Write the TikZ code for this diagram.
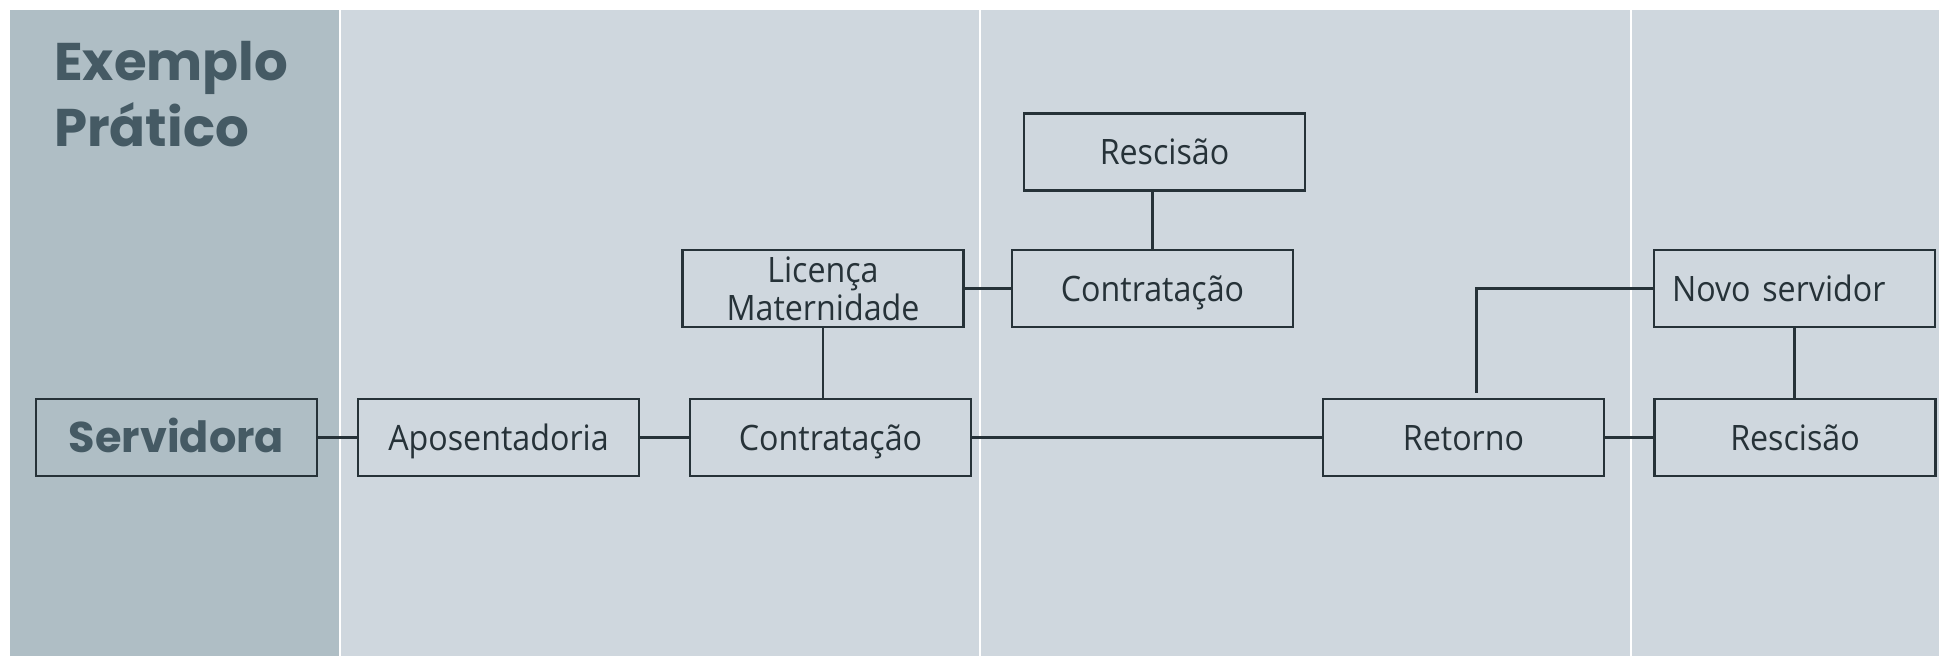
\documentclass[tikz,border=0pt]{standalone}
\usepackage{fontspec}
\setmainfont{Open Sans}[FakeStretch=0.92]
\newfontfamily\poppins{Poppins}
\usetikzlibrary{positioning,calc}
\definecolor{panelA}{HTML}{AFBEC5}
\definecolor{panelB}{HTML}{CFD7DE}
\definecolor{ink}{HTML}{263238}
\definecolor{titlec}{HTML}{455A64}

\begin{document}
\begin{tikzpicture}[x=1pt,y=-1pt,
      box/.style={draw=ink, line width=2.2pt, minimum width=281pt, minimum height=77pt, inner sep=0pt, text=ink, font=\fontsize{35}{38}\selectfont, align=center},
      oneline/.style={box, text height=25pt, text depth=0pt},
      bigbox/.style={oneline, text height=30pt, text=titlec, font=\poppins\bfseries\fontsize{43}{60}\selectfont},
      link/.style={draw=ink, line width=2.2pt}]
      % fundo e colunas
      \fill[white] (0,0) rectangle (1939,656);
      \useasboundingbox (0,0) rectangle (1939,656);
      \fill[panelA] (10,10) rectangle (339,656);
      \fill[panelB] (340.5,10) rectangle (979,656);
      \fill[panelB] (980.5,10) rectangle (1630,656);
      \fill[panelB] (1631.5,10) rectangle (1939,656);
      \node[anchor=base west, align=left, text=titlec, inner sep=0pt, font=\poppins\bfseries\fontsize{53}{66}\selectfont] (t) at (54,146) {Exemplo\\Prático};
      % caixas
      \node[bigbox] (a) at (176.5,437.5) {Servidora};
      \node[oneline] (b) at (498.5,437.5) {Aposentadoria};
      \node[oneline] (c) at (830.5,437.5) {Contratação};
      \node[box] (d) at (823,288.5) {Licença\\Maternidade};
      \node[oneline] (e) at (1152.5,288.5) {Contratação};
      \node[oneline] (f) at (1164.5,152) {Rescisão};
      \node[oneline] (g) at (1463.5,437.5) {Retorno};
      \node[oneline, text width=245pt, align=left] (h) at (1794.5,288.5) {Novo servidor};
      \node[oneline] (i) at (1795,437.5) {Rescisão};
      % ligacoes
      \draw[link] (a) -- (b);
      \draw[link] (b) -- (c);
      \draw[link] (d.south) -- (d.south |- c.north);
      \draw[link] (d) -- (e);
      \draw[link] (e.north) -- (e.north |- f.south);
      \draw[link] (c) -- (g);
      \coordinate (g1) at ([xshift=13pt,yshift=5pt]g.north);
      \draw[link] (g1) |- (h.west);
      \draw[link] (g) -- (i);
      \draw[link] (h.south) -- (h.south |- i.north);
\end{tikzpicture}
\end{document}
